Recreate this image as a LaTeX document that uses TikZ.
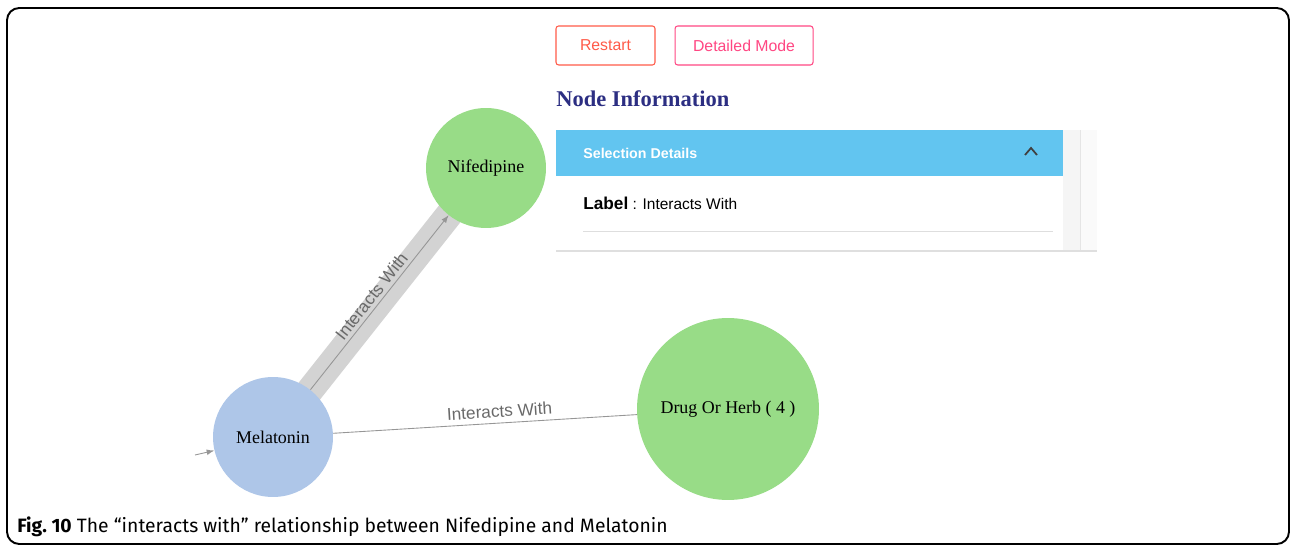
\documentclass[tikz,border=0pt]{standalone}
\usepackage{fontspec}
\setmainfont{Liberation Serif}
\setsansfont{Liberation Sans}
\newfontfamily\capfont{Fira Sans}
\usetikzlibrary{positioning,shadows,backgrounds}
\definecolor{druggreen}{RGB}{152,220,135}
\definecolor{melblue}{RGB}{174,198,232}
\definecolor{bandgrey}{RGB}{211,211,211}
\definecolor{edgegrey}{RGB}{150,150,150}
\definecolor{labelgrey}{RGB}{105,105,105}
\definecolor{headblue}{RGB}{98,197,240}
\definecolor{restartred}{RGB}{255,90,72}
\definecolor{modepink}{RGB}{255,70,130}
\definecolor{infonavy}{RGB}{44,46,130}
\begin{document}
\begin{tikzpicture}
	[x=0.02cm,y=-0.02cm,>=latex,
	drug/.style={circle,fill=druggreen,minimum size=2.4cm,inner sep=0pt,font=\fontsize{10.2}{12}\selectfont},
	btn/.style={draw,rounded corners=1.5pt,line width=0.6pt,minimum height=0.78cm,font=\sffamily\fontsize{9}{11}\selectfont},
	rel/.style={edgegrey,line width=0.5pt},
	rellabel/.style={sloped,above,inner sep=2pt,text=labelgrey,font=\sffamily\fontsize{9.8}{11}\selectfont}]
\useasboundingbox (0,0) rectangle (1290,546);
\draw[line width=1.1pt,rounded corners=7pt] (7,8) rectangle (1289,544);
% buttons and panel
\node[btn,draw=restartred,text=restartred,minimum width=1.98cm] (restart) at (605.5,45.5) {Restart};
\node[btn,draw=modepink,text=modepink,minimum width=2.76cm,right=0.38cm of restart] (mode) {Detailed Mode};
\node[anchor=west,inner sep=0pt,text=infonavy,font=\bfseries\fontsize{12.8}{14}\selectfont] (info) at (556,99) {Node Information};
\fill[white,drop shadow={shadow xshift=0pt,shadow yshift=-1pt,opacity=0.25}] (556,130) rectangle (1097,250);
\fill[headblue] (556,130) rectangle (1063,176);
\fill[black!4] (1063,130) rectangle (1080,250);
\fill[black!2] (1080,130) rectangle (1097,250);
\draw[black!10,line width=0.4pt] (1080,130) -- (1080,250);
\node[anchor=west,inner sep=0pt,text=white,font=\sffamily\bfseries\fontsize{8.1}{9}\selectfont] (sel) at (583,153.5) {Selection Details};
\draw[black!75,line width=1pt] (1025,155) -- (1031,148) -- (1037,155);
\node[anchor=west,inner sep=0pt,font=\sffamily\fontsize{8.8}{10}\selectfont] (lbl) at (583,203) {{\bfseries\fontsize{9.8}{10}\selectfont Label} : Interacts With};
\draw[black!13,line width=0.5pt] (583,231) -- (1053,231);
% graph
\node[drug] (nif) at (486,168) {Nifedipine};
\node[drug,fill=melblue] (mel) at (273,437) {Melatonin};
\node[drug,minimum size=3.64cm] (herb) at (728,409) {Drug Or Herb ( 4 )};
\coordinate (in) at (195,455);
\begin{scope}[on background layer]
\draw[bandgrey,line width=15.5pt] (mel.center) -- (nif.center);
\end{scope}
\draw[rel,->] (mel) -- (nif) node[rellabel,pos=0.5]{Interacts With};
\draw[rel] (mel) -- (herb) node[rellabel,pos=0.55,inner sep=3pt]{Interacts With};
\draw[rel,->] (in) -- (mel);
\node[anchor=base west,inner sep=0pt,font=\capfont\fontsize{11}{13}\selectfont] (cap) at (17,532) {\textbf{Fig.~10} The “interacts with” relationship between Nifedipine and Melatonin};
\end{tikzpicture}
\end{document}
